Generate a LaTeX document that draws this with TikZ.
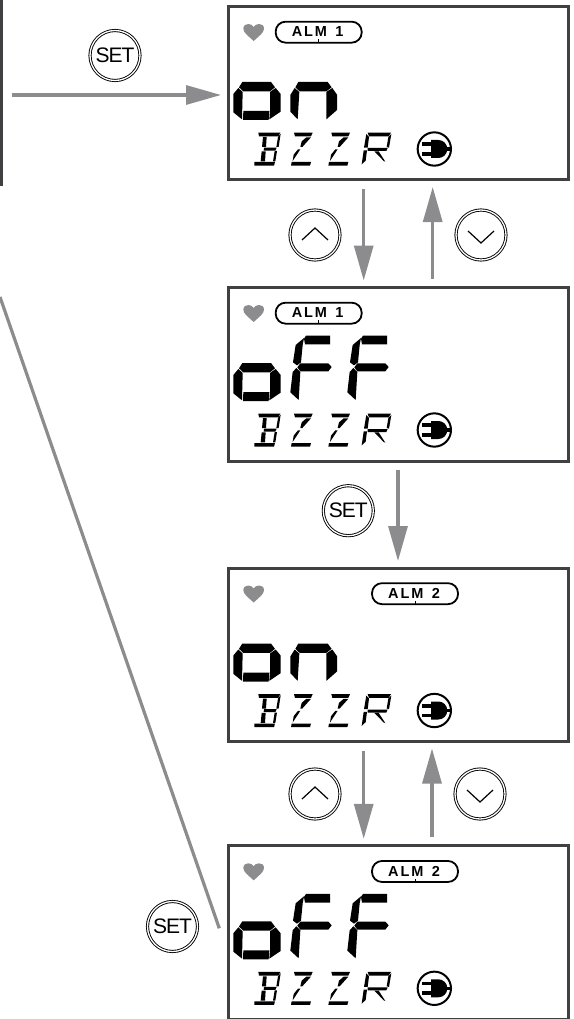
\documentclass[tikz,border=0pt]{standalone}
\usepackage{fontspec}
\setmainfont{Liberation Sans}
\usetikzlibrary{arrows.meta}
\definecolor{framec}{HTML}{404042}
\definecolor{flowc}{HTML}{8C8C8F}
\newcommand{\zoomfield}[1]{\begin{scope}[shift={(225,#1)},x=0.33333pt,y=-0.33333pt]}
\newcommand{\digitO}{%
 \fill (52,246)--(138,246)--(150,262)--(135,274)--(55,274)--(42,262)--cycle;
 \fill (40,264)--(25,282)--(25,337)--(51,358)--(53,276)--cycle;
 \fill (152,264)--(167,282)--(167,335)--(133,358)--(135,332)--(135,276)--cycle;
 \fill (55,333)--(133,333)--(131,360)--(54,360)--cycle;}
\newcommand{\digitN}{%
 \fill (220,246)--(308,246)--(320,262)--(304,274)--(224,274)--(211,262)--cycle;
 \fill (209,264)--(196,285)--(196,335)--(218,358)--(223,276)--cycle;
 \fill (322,264)--(336,284)--(336,330)--(304,358)--(304,276)--cycle;}
\newcommand{\digitF}[1]{%
 \begin{scope}[shift={(#1,0)}]
 \fill (243,164)--(315,164)--(315,190)--(240,190)--(237,173)--cycle;
 \fill (237,171)--(212,192)--(204,244)--(216,253)--(228,244)--(233,192)--cycle;
 \fill (226,247)--(310,247)--(320,258)--(310,271)--(226,271)--(217,259)--cycle;
 \fill (214,261)--(203,273)--(196,334)--(221,357)--(226,273)--cycle;
 \end{scope}}
\newcommand{\valueOn}{\digitO\digitN}
\newcommand{\valueOff}{\digitO\digitF{0}\digitF{171}}
\newcommand{\letterZ}[1]{%
 \begin{scope}[shift={(#1,0)}]
 \fill (207,398)--(263,398)--(258,409)--(210,409)--cycle;
 \fill (258,412)--(232,441)--(226,441)--(230,424)--(244,412)--cycle;
 \fill (226,448)--(203,483)--(206,464)--(219,448)--cycle;
 \fill (200,486)--(258,486)--(255,497)--(198,497)--cycle;
 \end{scope}}
\newcommand{\bzzrText}{%
 \fill (100,398)--(166,398)--(160,409)--(102,409)--cycle;
 \fill (117,443)--(155,443)--(151,452)--(116,452)--cycle;
 \fill (88,486)--(150,486)--(147,497)--(88,497)--cycle;
 \fill (114,411)--(125,411)--(123,441)--(111,441)--cycle;
 \fill (110,454)--(122,454)--(120,484)--(107,484)--cycle;
 \fill (167,401)--(161,441)--(154,441)--(159,411)--cycle;
 \fill (156,453)--(151,484)--(144,484)--(149,453)--cycle;
 \letterZ{0}\letterZ{112}
 \fill (428,398)--(498,398)--(491,409)--(432,409)--cycle;
 \fill (424,402)--(432,411)--(428,443)--(417,443)--cycle;
 \fill (416,451)--(426,451)--(422,482)--(410,493)--cycle;
 \fill (499,402)--(492,443)--(485,441)--(490,411)--cycle;
 \fill (428,444)--(488,444)--(484,453)--(428,453)--cycle;
 \fill (448,454)--(461,454)--(481,485)--(476,483)--cycle;}
\newcommand{\plugIcon}{%
 \draw[line width=2pt] (628,447) circle[radius=50];
 \fill (618,420)--(640,420) .. controls (655,420) and (667,432) .. (667,447) .. controls (667,462) and (655,474) .. (640,474)--(618,474)--cycle;
 \fill (660,442) rectangle (680,452);
 \fill (590,427) rectangle (620,438);
 \fill (590,456) rectangle (620,467);}
\newcommand{\heartIcon}{%
 \fill[flowc] (86,123) .. controls (70,108) and (55,98) .. (55,86) .. controls (55,76) and (63,72) .. (70,72) .. controls (78,72) and (83,76) .. (86,81) .. controls (89,76) and (94,72) .. (102,72) .. controls (110,72) and (117,76) .. (117,86) .. controls (117,98) and (102,108) .. (86,123) -- cycle;}
\newcommand{\almPill}[3]{%
 \begin{scope}[shift={(#1,0)}]
 \draw[line width=1.8pt,rounded corners=10pt] (152,65) rectangle (410,128);
 \draw[line width=0.8pt] (281,118)--(281,128);
 \node[almtext] (#3) at (278,96) {ALM\hspace{2.5pt} #2};
 \end{scope}}
\newcommand{\screenFace}[5]{%
 \node[screenbox] (#1) at (398,#2+86.75) {};
 \zoomfield{#2-6.5}
 \heartIcon\almPill{#3}{#4}{#1alm}#5\bzzrText\plugIcon
 \end{scope}}
\tikzset{
 x=1pt,y=-1pt,
 screenbox/.style={draw=framec,line width=3pt,fill=white,minimum width=340pt,minimum height=173.5pt,inner sep=0pt,outer sep=0pt},
 almtext/.style={font=\fontsize{14.5}{14.5}\selectfont\bfseries\addfontfeatures{LetterSpace=13},inner sep=0pt},
 ringbtn/.style={circle,draw=black,line width=0.9pt,double=white,double distance=1.3pt,minimum size=50pt,inner sep=0pt,outer sep=0pt,font=\fontsize{21}{21}\selectfont\addfontfeatures{LetterSpace=-5}},
 flow/.style={draw=flowc,line width=3.2pt,-{Triangle[length=35pt,width=19pt]}},
 flowplain/.style={draw=flowc,line width=3.2pt},
 chev/.style={line width=1.2pt,draw=black}
}
\begin{document}
\begin{tikzpicture}
\useasboundingbox (0,0) rectangle (573,1019);
\screenFace{sa}{6.5}{0}{1}{\valueOn}
\screenFace{sb}{287.5}{0}{1}{\valueOff}
\screenFace{sc}{568}{289}{2}{\valueOn}
\screenFace{sd}{845.8}{289}{2}{\valueOff}
\node[ringbtn] (setone) at (115,55.5) {SET};
\node[ringbtn] (settwo) at (348.3,510.7) {SET};
\node[ringbtn] (setthree) at (172.5,926.5) {SET};
\node[ringbtn] (upa) at (315,235) {};
\node[ringbtn] (downa) at (481,235) {};
\node[ringbtn] (upb) at (315,794) {};
\node[ringbtn] (downb) at (480,794) {};
\foreach \n in {upa,upb} \draw[chev] ([shift={(-13,5)}]\n.center)--([shift={(0,-7)}]\n.center)--([shift={(13,5)}]\n.center);
\foreach \n in {downa,downb} \draw[chev] ([shift={(-13,-4)}]\n.center)--([shift={(0,8)}]\n.center)--([shift={(13,-4)}]\n.center);
\coordinate (barTop) at (1.5,0);
\coordinate (barEnd) at (1.5,186.5);
\draw[draw=framec,line width=3pt] (barTop)--(barEnd);
\coordinate (inStart) at (12.3,95);
\draw[flow,shorten >=7pt] (inStart)--(sa.west |- inStart);
\coordinate (diagStart) at (0,297);
\coordinate (diagEnd) at (219.3,928.3);
\draw[flowplain] (diagStart)--(diagEnd);
\draw[flow,shorten <=9pt,shorten >=7pt] ([xshift=-34.3pt]sa.south)--([xshift=-34.3pt]sb.north);
\draw[flow,shorten <=9pt,shorten >=7pt] ([xshift=34.7pt]sb.north)--([xshift=34.7pt]sa.south);
\draw[flow,shorten <=9pt,shorten >=7pt] (sb.south)--(sc.north);
\draw[flow,shorten <=9pt,shorten >=7pt] ([xshift=-34.3pt]sc.south)--([xshift=-34.3pt]sd.north);
\draw[flow,shorten <=9pt,shorten >=7pt] ([xshift=34pt]sd.north)--([xshift=34pt]sc.south);
\end{tikzpicture}
\end{document}
